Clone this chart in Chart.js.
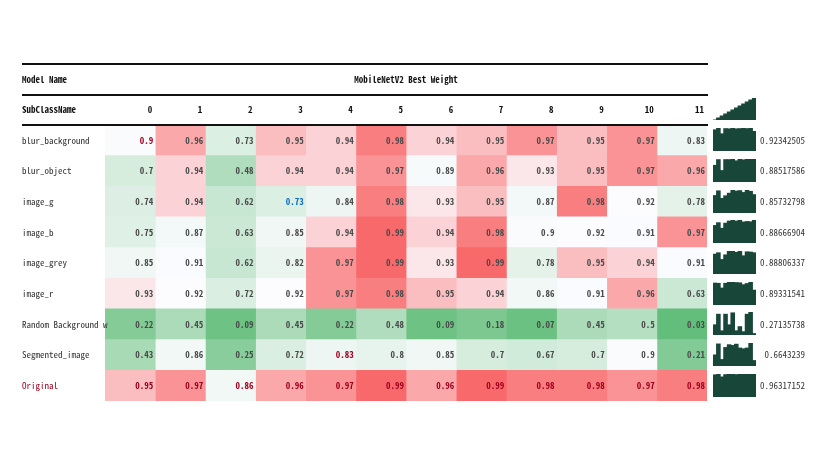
<!DOCTYPE html>
<html>
<head>
<meta charset="utf-8">
<script src="https://cdn.jsdelivr.net/npm/chart.js@4.4.1/dist/chart.umd.min.js"></script>
<style>
  html, body { margin: 0; padding: 0; background: #ffffff; }
  #wrap { position: relative; width: 830px; height: 467px; overflow: hidden; }
  #main { position: absolute; left: 0; top: 0; }
  .spark { position: absolute; }
</style>
</head>
<body>
<div id="wrap">
  <canvas id="main" width="830" height="467"></canvas>
</div>
<script>
// ---------------- DATA ----------------
const modelName = "MobileNetV2 Best Weight";
const columnLabels = ["0","1","2","3","4","5","6","7","8","9","10","11"];
const rowLabels = ["blur_background","blur_object","image_g","image_b","image_grey","image_r","Random Background w","Segmented_image","Original"];

const blurBackground = [0.9, 0.96, 0.73, 0.95, 0.94, 0.98, 0.94, 0.95, 0.97, 0.95, 0.97, 0.83];
const blurObject     = [0.7, 0.94, 0.48, 0.94, 0.94, 0.97, 0.89, 0.96, 0.93, 0.95, 0.97, 0.96];
const imageG         = [0.74, 0.94, 0.62, 0.73, 0.84, 0.98, 0.93, 0.95, 0.87, 0.98, 0.92, 0.78];
const imageB         = [0.75, 0.87, 0.63, 0.85, 0.94, 0.99, 0.94, 0.98, 0.9, 0.92, 0.91, 0.97];
const imageGrey      = [0.85, 0.91, 0.62, 0.82, 0.97, 0.99, 0.93, 0.99, 0.78, 0.95, 0.94, 0.91];
const imageR         = [0.93, 0.92, 0.72, 0.92, 0.97, 0.98, 0.95, 0.94, 0.86, 0.91, 0.96, 0.63];
const randomBg       = [0.22, 0.45, 0.09, 0.45, 0.22, 0.48, 0.09, 0.18, 0.07, 0.45, 0.5, 0.03];
const segmented      = [0.43, 0.86, 0.25, 0.72, 0.83, 0.8, 0.85, 0.7, 0.67, 0.7, 0.9, 0.21];
const original       = [0.95, 0.97, 0.86, 0.96, 0.97, 0.99, 0.96, 0.99, 0.98, 0.98, 0.97, 0.98];

const rowMeans = ["0.92342505","0.88517586","0.85732798","0.88666904","0.88806337","0.89331541","0.27135738","0.6643239","0.96317152"];

// cells whose text is highlighted: [row, col, kind]
const highlightCells = [[0, 0, "red"], [2, 3, "blue"], [7, 4, "red"]];
const highlightRow = 8;

const rows = [blurBackground, blurObject, imageG, imageB, imageGrey, imageR, randomBg, segmented, original];

// ---------------- STYLE ----------------
const FONT = '"Noto Sans Mono CJK SC", "Noto Sans Mono CJK JP", "Liberation Mono", "DejaVu Sans Mono", monospace';
const DARK_RED = "#a0001e";
const BLUE = "#0b6ec6";
const SPARK = "#18473a";

// 3-colour scale (min green, 50th percentile white, max red)
const allVals = rows.flat().slice().sort((a, b) => a - b);
const vMin = allVals[0], vMax = allVals[allVals.length - 1];
function pct(p) {
  const idx = (allVals.length - 1) * p;
  const lo = Math.floor(idx), hi = Math.ceil(idx);
  return allVals[lo] + (allVals[hi] - allVals[lo]) * (idx - lo);
}
const vMid = pct(0.5);
const cGreen = [99, 190, 123], cWhite = [252, 252, 255], cRed = [248, 105, 107];
function mix(a, b, t) {
  return "rgb(" + a.map((v, i) => Math.round(v + (b[i] - v) * t)).join(",") + ")";
}
function cellColor(v) {
  if (v >= vMid) return mix(cWhite, cRed, (v - vMid) / (vMax - vMid));
  return mix(cWhite, cGreen, (vMid - v) / (vMid - vMin));
}

// ---------------- MAIN HEATMAP ----------------
const datasets = columnLabels.map((c, j) => ({
  label: c,
  data: rows.map(r => [j, j + 1]),
  backgroundColor: rows.map(r => cellColor(r[j])),
  borderWidth: 0,
  barPercentage: 1,
  categoryPercentage: 1,
  grouped: false,
  inflateAmount: 0.4
}));

function textColor(ri, ci) {
  if (ri === highlightRow) return DARK_RED;
  for (const h of highlightCells) {
    if (h[0] === ri && h[1] === ci) return h[2] === "blue" ? BLUE : DARK_RED;
  }
  return "#4a4a4a";
}

const tablePlugin = {
  id: "tableText",
  afterDraw(chart) {
    const ctx = chart.ctx;
    const xs = chart.scales.x, ys = chart.scales.y;
    const left = 22, right = 708;
    ctx.save();
    // rules
    ctx.strokeStyle = "#111";
    ctx.lineWidth = 2;
    [64, 95, 125].forEach(y => {
      ctx.beginPath(); ctx.moveTo(left, y); ctx.lineTo(right, y); ctx.stroke();
    });
    ctx.textBaseline = "middle";
    // header rows
    ctx.fillStyle = "#111";
    ctx.font = "bold 9px " + FONT;
    ctx.textAlign = "left";
    ctx.fillText("Model Name", left, 80);
    ctx.fillText("SubClassName", left, 110);
    ctx.textAlign = "center";
    ctx.fillText(modelName, (xs.getPixelForValue(0) + xs.getPixelForValue(12)) / 2, 80);
    ctx.textAlign = "right";
    columnLabels.forEach((c, j) => {
      ctx.fillText(c, xs.getPixelForValue(j + 1) - 3, 110);
    });
    // rows
    rows.forEach((r, ri) => {
      const y = ys.getPixelForValue(ri);
      ctx.textAlign = "left";
      ctx.font = "9px " + FONT;
      ctx.fillStyle = ri === highlightRow ? DARK_RED : "#333";
      ctx.fillText(rowLabels[ri], left, y);
      ctx.font = "bold 9px " + FONT;
      ctx.textAlign = "right";
      r.forEach((v, ci) => {
        ctx.fillStyle = textColor(ri, ci);
        ctx.fillText(String(v), xs.getPixelForValue(ci + 1) - 2, y);
      });
      ctx.font = "9px " + FONT;
      ctx.fillStyle = "#333";
      ctx.fillText(rowMeans[ri], 805, y);
    });
    ctx.restore();
  }
};

const mainChart = new Chart(document.getElementById("main"), {
  type: "bar",
  data: { labels: rowLabels, datasets },
  options: {
    indexAxis: "y",
    responsive: false,
    animation: false,
    devicePixelRatio: 1,
    layout: { padding: { left: 105, right: 123, top: 125, bottom: 66 } },
    plugins: { legend: { display: false }, tooltip: { enabled: false } },
    scales: {
      x: { type: "linear", min: 0, max: 12, display: false },
      y: { type: "category", display: false, offset: true }
    }
  },
  plugins: [tablePlugin]
});

// ---------------- SPARKLINES ----------------
const wrap = document.getElementById("wrap");
function spark(values, left, top, w, h) {
  const cv = document.createElement("canvas");
  cv.className = "spark";
  cv.width = w; cv.height = h;
  cv.style.left = left + "px"; cv.style.top = top + "px";
  wrap.appendChild(cv);
  new Chart(cv, {
    type: "bar",
    data: {
      labels: values.map((v, i) => i),
      datasets: [{
        data: values,
        backgroundColor: SPARK,
        borderWidth: 0,
        barPercentage: 1,
        categoryPercentage: 1,
        inflateAmount: 0.5
      }]
    },
    options: {
      responsive: false,
      animation: false,
      devicePixelRatio: 1,
      layout: { padding: 0 },
      plugins: { legend: { display: false }, tooltip: { enabled: false } },
      scales: {
        x: { display: false },
        y: { display: false, min: 0, max: Math.max(...values) }
      }
    }
  });
}
const sparkX = 713, sparkW = 43;
spark(columnLabels.map(Number), sparkX, 98, sparkW, 22);
rows.forEach((r, ri) => {
  const y = mainChart.scales.y.getPixelForValue(ri);
  spark(r, sparkX, Math.round(y - 12), sparkW, 23);
});
</script>
</body>
</html>
